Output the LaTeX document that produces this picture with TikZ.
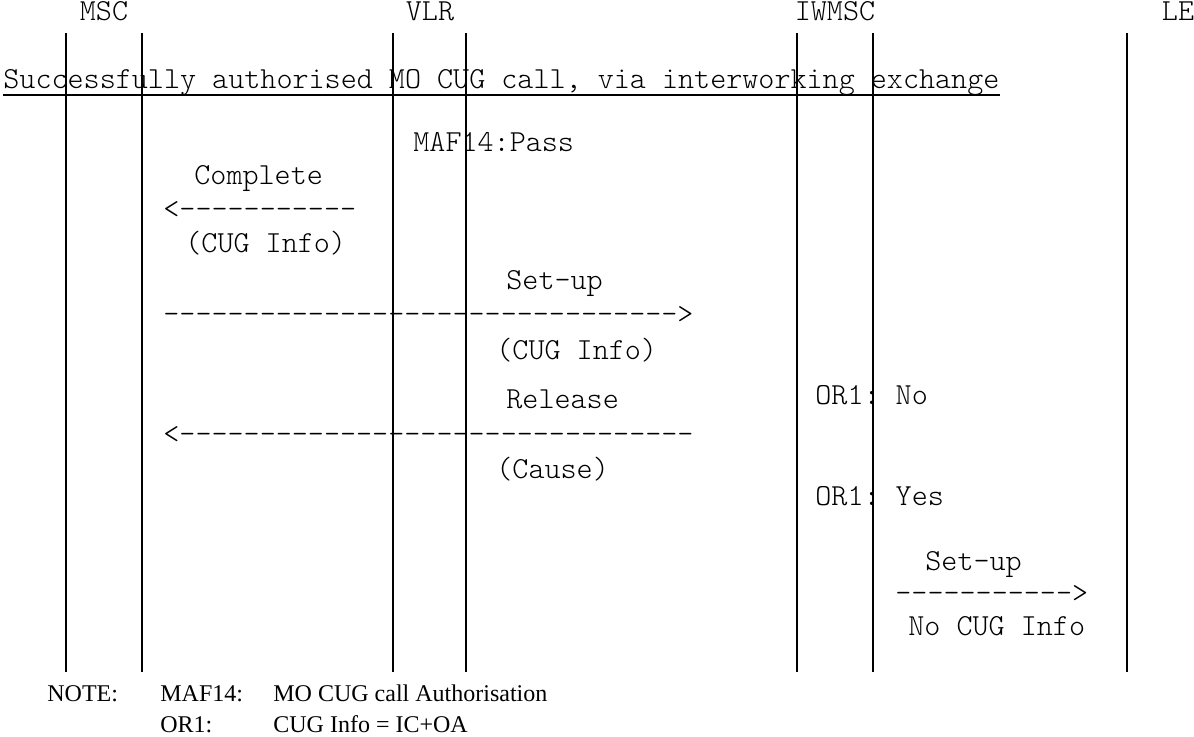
\documentclass[tikz,border=0pt]{standalone}
\usepackage{fontspec}
\setmainfont{Liberation Serif}
\setmonofont{lmmonolt10-regular.otf}
\tikzset{
  msg/.style={font=\ttfamily\fontsize{15.3pt}{18pt}\selectfont, anchor=base west, inner sep=0pt},
  head/.style={msg, anchor=base},
  life/.style={line width=1pt},
  note/.style={font=\fontsize{12pt}{14pt}\selectfont, anchor=base west, inner sep=0pt}
}
\begin{document}
\begin{tikzpicture}[x=0.5pt,y=-0.5pt]
\useasboundingbox (0,0) rectangle (1194,737);
% lifelines
\foreach \n/\x in {msca/66,mscb/142,vlra/393,vlrb/466,iwa/797,iwb/873,le/1127}{
  \coordinate (\n top) at (\x,33);
  \coordinate (\n bot) at (\x,672);
  \draw[life] (\n top) -- (\n bot);
}
\node[head] (msc) at (104,21) {MSC};
\node[head] (vlr) at (430,21) {VLR};
\node[head] (iwmsc) at (835,21) {IWMSC};
\node[head] (le) at (1178,21) {LE};

\node[msg] (title) at (3,89) {Successfully authorised MO CUG call, via interworking exchange};
\draw[life] ([yshift=-3pt]title.base west) -- ([yshift=-3pt]title.base east);

% MSC <-> VLR
\node[msg] (maf) at (413,152) {MAF14:Pass};
\node[msg] (complete) at (194,185) {Complete};
\node[msg] (completearr) at (163,219) {<-----------};
\node[msg] (completeinfo) at (185,253) {(CUG Info)};

% MSC <-> IWMSC
\node[msg] (setup) at (506,290) {Set-up};
\node[msg] (setuparr) at (163,324) {-------------------------------->};
\node[msg] (setupinfo) at (496,360) {(CUG Info)};
\node[msg] (ornoe) at (815,405) {OR1: No};
\node[msg] (release) at (506,409) {Release};
\node[msg] (releasearr) at (163,444) {<--------------------------------};
\node[msg] (cause) at (496,479) {(Cause)};
\node[msg] (oryes) at (815,505) {OR1: Yes};

% IWMSC <-> LE
\node[msg] (setuple) at (925,570) {Set-up};
\node[msg] (setuplearr) at (895,602) {----------->};
\node[msg] (nocug) at (908,635) {No CUG Info};

% notes
\node[note] (notehd) at (47,701) {NOTE:};
\node[note] (mafkey) at (160,701) {MAF14:};
\node[note] (maftxt) at (273,701) {MO CUG call Authorisation};
\node[note] (orkey) at (160,732) {OR1:};
\node[note] (ortxt) at (273,732) {CUG Info = IC+OA};
\end{tikzpicture}
\end{document}
